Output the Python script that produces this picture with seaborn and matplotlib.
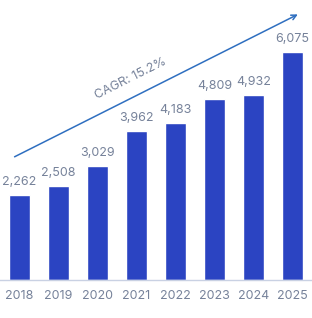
import matplotlib
matplotlib.use("Agg")
import matplotlib.pyplot as plt
import seaborn as sns
import pandas as pd

years = ["2018", "2019", "2020", "2021", "2022", "2023", "2024", "2025"]
values = [2262, 2508, 3029, 3962, 4183, 4809, 4932, 6075]
cagr_label = "CAGR: 15.2%"

sns.set_style("white")
plt.rcParams['font.family'] = ['Inter', 'DejaVu Sans']

df = pd.DataFrame({"year": years, "value": values})

fig = plt.figure(figsize=(3.12, 3.18), dpi=100)
ax = fig.add_axes([0, 0.1195, 1, 0.8805])

sns.barplot(data=df, x="year", y="value", color="#2b44c2", saturation=1,
            width=0.54, ax=ax)

ax.set_xlim(-0.5, 7.5)
ax.set_ylim(0, 7450)

txt_color = "#76829a"
for i, v in enumerate(values):
    ax.annotate(f"{v:,}", (i, v), xytext=(0, 5), textcoords="offset points",
                ha="center", va="bottom", fontsize=9, color=txt_color)

# trend arrow
ax.annotate("", xy=(7.2, 7100), xytext=(-0.19, 3245),
            arrowprops=dict(arrowstyle="->", color="#2f6fc0", lw=1.1,
                            mutation_scale=9))
ax.text(2.85, 5350, cagr_label, rotation=26.7, rotation_mode="anchor",
        ha="center", va="center", fontsize=9, color=txt_color)

sns.despine(ax=ax, left=True, top=True, right=True)
ax.spines["bottom"].set_color("#c9d1e3")
ax.spines["bottom"].set_linewidth(1)
ax.set_yticks([])
ax.set_xlabel("")
ax.set_ylabel("")
ax.tick_params(axis="x", length=0, pad=7, labelsize=9, labelcolor=txt_color)

fig.savefig("out.png", dpi=100)
